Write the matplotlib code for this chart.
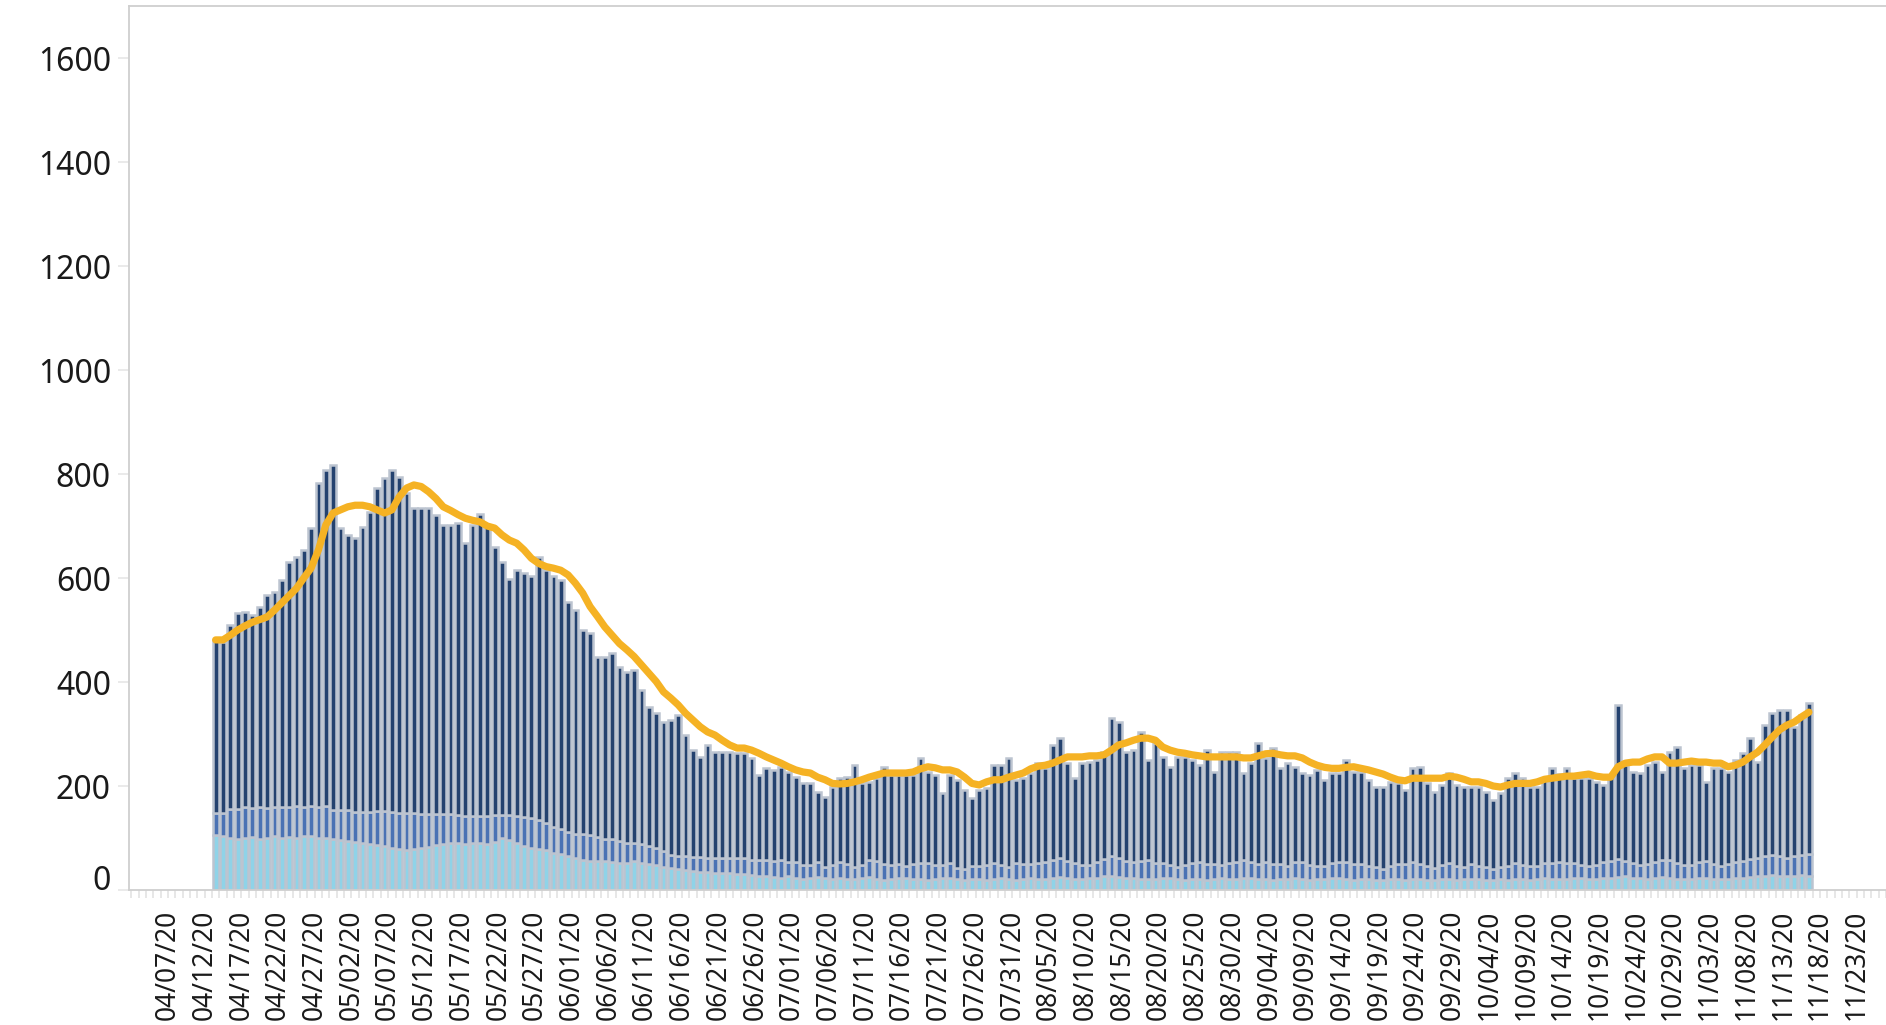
import matplotlib
matplotlib.use("Agg")
import matplotlib.pyplot as plt
import numpy as np
import pandas as pd

plt.rcParams['font.family'] = ['Noto Sans', 'DejaVu Sans']

# ---------------- data ----------------
axis_origin = "2020-04-07"
first_bar_date = "2020-04-13"

total = [
    481, 477, 510, 532, 535, 529, 545, 567, 574, 596, 631, 641, 654, 696, 782, 808, 817, 696, 683, 677,
    698, 727, 773, 792, 808, 795, 763, 734, 734, 734, 721, 702, 702, 705, 668, 702, 723, 700,
    660, 631, 599, 615, 609, 603, 641, 615, 603, 596, 554, 538, 500, 494, 448, 448, 455, 429, 419, 423,
    385, 352, 340, 323, 327, 337, 298, 269, 256, 279, 265, 265, 265, 263, 263,
    254, 221, 234, 231, 237, 227, 217, 205, 205, 189, 179, 198, 215, 217, 240, 205, 208, 215, 237, 221,
    221, 221, 221, 254, 227, 221, 186, 221, 212, 192, 177, 192, 196, 240,
    240, 254, 212, 215, 225, 244, 234, 279, 292, 244, 215, 244, 246, 250, 265, 331, 323, 265, 269, 304,
    250, 283, 256, 237, 256, 256, 250, 240, 269, 227, 265, 265, 265, 225,
    244, 283, 254, 273, 234, 244, 237, 225, 221, 231, 212, 225, 225, 250, 227, 227, 212, 198, 198, 208,
    205, 192, 234, 237, 205, 189, 202, 225, 202, 198, 198, 198, 189, 173, 186, 215, 225, 215, 198, 198,
    215, 234, 224,
    234, 215, 215, 215, 208, 202, 217, 356, 240, 227, 225, 240, 246, 227, 265, 275, 234, 240, 240, 208,
    234, 234, 227, 250, 263, 292, 246, 317, 340, 346, 346, 313, 337, 360,
]

light = [
    106, 104, 100, 98, 100, 102, 98, 100, 104, 100, 102, 100, 104, 104, 100, 100, 98, 96, 94, 92,
    90, 88, 86, 84, 80, 78, 76, 78, 80, 82, 86, 88, 90, 90, 88, 90, 90, 88, 92, 100,
    96, 90, 84, 80, 78, 76, 72, 70, 66, 62,
    58, 56, 55, 55, 54, 52, 52, 55, 52, 50, 48, 45,
    42, 40, 38, 36, 35, 34, 33, 32, 32, 30, 30, 28, 27,
    26, 25, 24, 26, 23, 22, 24, 25, 23, 22,
    24, 22, 21, 23, 25, 22, 20, 21, 24, 23,
    22, 21, 20, 22, 24, 23, 21, 20, 22, 21,
    20, 22, 23, 21, 20, 22, 24, 22, 21, 23,
    25, 24, 22, 21, 23, 24, 26, 27, 25, 24,
    23, 22, 21, 22, 24, 23, 21, 20, 22, 21,
    20, 22, 23, 21, 22, 24, 23, 22, 21, 20,
    22, 21, 23, 22, 20, 21, 22, 24, 23, 21,
    20, 22, 21, 20, 19, 21, 22, 20, 21, 22,
    20, 19, 21, 22, 20, 21, 22, 21, 20, 19,
    21, 20, 22, 21, 20, 22, 23, 22, 21, 22,
    24, 23, 22, 21, 23, 24, 25, 26, 24, 23,
    22, 24, 25, 23, 22, 21, 22, 24, 23, 22,
    21, 22, 23, 24, 25, 26, 27, 28, 27, 26,
    27, 28, 27,
]

mid = [
    42, 44, 56, 58, 60, 56, 62, 58, 56, 60, 58, 62, 56, 58, 60, 62, 56, 58, 60, 58,
    60, 62, 66, 68, 70, 70, 72, 70, 66, 64, 60, 58, 56, 54, 54, 52, 52, 54, 52, 45,
    48, 52, 56, 58, 56, 52, 50, 48, 46, 46,
    50, 50, 46, 44, 44, 42, 38, 36, 36, 34, 32, 30,
    26, 26, 28, 28, 28, 28, 28, 30, 30, 32, 32, 30, 30,
    32, 30, 34, 28, 30, 26, 24, 28, 22, 26,
    30, 28, 24, 26, 32, 34, 30, 28, 26, 24,
    28, 30, 32, 26, 24, 28, 22, 20, 24, 26,
    28, 30, 26, 24, 32, 28, 26, 30, 32, 34,
    36, 32, 30, 28, 26, 30, 34, 38, 36, 32,
    30, 34, 36, 30, 28, 26, 24, 28, 30, 32,
    30, 28, 26, 30, 32, 34, 30, 28, 32, 30,
    28, 26, 30, 32, 28, 26, 24, 28, 30, 32,
    30, 28, 26, 24, 22, 26, 28, 30, 32, 28,
    26, 24, 28, 30, 26, 24, 28, 26, 24, 22,
    24, 26, 30, 28, 26, 24, 28, 30, 32, 30,
    28, 26, 24, 28, 30, 32, 34, 30, 28, 26,
    28, 30, 32, 34, 30, 28, 26, 30, 32, 28,
    26, 28, 30, 32, 34, 36, 38, 40, 38, 36,
    38, 40, 42,
]

avg = [
    481, 481, 490, 500, 508, 515, 520, 525, 538, 552, 566, 580, 600, 619, 654, 702, 725, 731, 737, 740,
    740, 737, 731, 725, 731, 756, 773, 779, 776, 766, 753, 737, 730, 722, 715, 711, 708, 700,
    696, 683, 673, 667, 654, 638, 628, 622, 619, 615, 606, 590, 571, 545, 526, 506, 490, 474, 462, 449,
    433, 417, 401, 381, 369, 356, 340, 327, 314, 304, 298, 288, 279, 273, 273,
    269, 263, 256, 250, 244, 237, 231, 227, 225, 217, 212, 205, 204, 205, 208, 212, 217, 221, 225, 225,
    225, 225, 227, 233, 237, 235, 231, 231, 227, 217, 205, 202, 208, 212,
    212, 217, 221, 225, 233, 238, 240, 244, 250, 256, 256, 256, 258, 258, 260, 269, 279, 283, 288, 292,
    292, 288, 275, 269, 265, 263, 260, 258, 256, 256, 256, 256, 256, 254,
    254, 258, 262, 263, 260, 258, 258, 254, 246, 240, 236, 234, 234, 236, 237, 234, 231, 227, 223, 217,
    212, 210, 215, 215, 215, 215, 215, 219, 217, 213, 208, 208, 205, 200, 198, 202, 205, 205, 205, 208,
    213, 215, 217,
    219, 219, 221, 223, 219, 217, 217, 237, 244, 246, 246, 252, 256, 256, 244, 244, 246, 248, 246, 246,
    244, 244, 237, 240, 246, 256, 265, 279, 294, 308, 317, 323, 333, 342,
]

tick_labels = [
    "04/07/20", "04/12/20", "04/17/20", "04/22/20", "04/27/20", "05/02/20", "05/07/20", "05/12/20",
    "05/17/20", "05/22/20", "05/27/20", "06/01/20", "06/06/20", "06/11/20", "06/16/20", "06/21/20",
    "06/26/20", "07/01/20", "07/06/20", "07/11/20", "07/16/20", "07/21/20", "07/26/20", "07/31/20",
    "08/05/20", "08/10/20", "08/15/20", "08/20/20", "08/25/20", "08/30/20", "09/04/20", "09/09/20",
    "09/14/20", "09/19/20", "09/24/20", "09/29/20", "10/04/20", "10/09/20", "10/14/20", "10/19/20",
    "10/24/20", "10/29/20", "11/03/20", "11/08/20", "11/13/20", "11/18/20", "11/23/20",
]
y_ticks = [0, 200, 400, 600, 800, 1000, 1200, 1400, 1600]

# ---------------- derived ----------------
total_a = np.array(total, dtype=float)
light_a = np.array(light, dtype=float)
mid_a = np.array(mid, dtype=float)
top_a = total_a - light_a - mid_a

dates = pd.date_range(first_bar_date, periods=len(total), freq="D")
x = (dates - pd.Timestamp(axis_origin)).days.values + 0.5
tick_pos = np.arange(len(tick_labels)) * 5

c_light = "#8fd3e8"
c_mid = "#4a72b4"
c_top = "#24426f"
c_edge = "#bcc4d0"
c_line = "#f5b224"

fig = plt.figure(figsize=(18.86, 10.25), dpi=100)
ax = fig.add_axes([0.0684, 0.1317, 0.9316, 0.8624])

w = 0.78
lw = 1.8
ax.bar(x, light_a, width=w, color=c_light, edgecolor=c_edge, linewidth=lw, zorder=2)
ax.bar(x, mid_a, width=w, bottom=light_a, color=c_mid, edgecolor=c_edge, linewidth=lw, zorder=2)
ax.bar(x, top_a, width=w, bottom=light_a + mid_a, color=c_top, edgecolor=c_edge, linewidth=lw, zorder=2)

ax.plot(x, avg, color=c_line, linewidth=5.2, solid_capstyle='round', solid_joinstyle='round', zorder=5)

ax.set_xlim(-5.3, 234.0)
ax.set_ylim(0, 1700)

ax.set_xticks(tick_pos)
ax.set_xticklabels(tick_labels, rotation=90, fontsize=19, color="#1a1a1a")
ax.set_xticks(np.arange(-5, 235), minor=True)
ax.tick_params(axis='x', which='both', length=6, width=1.2, color="#e3e3e3", pad=8)

ax.set_yticks(y_ticks)
ax.set_yticklabels([str(v) for v in y_ticks], fontsize=23, color="#1a1a1a")
ax.tick_params(axis='y', length=8, width=1.2, color="#e6e6e6", pad=5)
ax.get_yticklabels()[0].set_verticalalignment('baseline')

for s in ['left', 'top', 'bottom']:
    ax.spines[s].set_color("#cfcfcf")
    ax.spines[s].set_linewidth(1.3)
ax.spines['right'].set_visible(False)

fig.savefig("out.png", dpi=100, facecolor="white")
